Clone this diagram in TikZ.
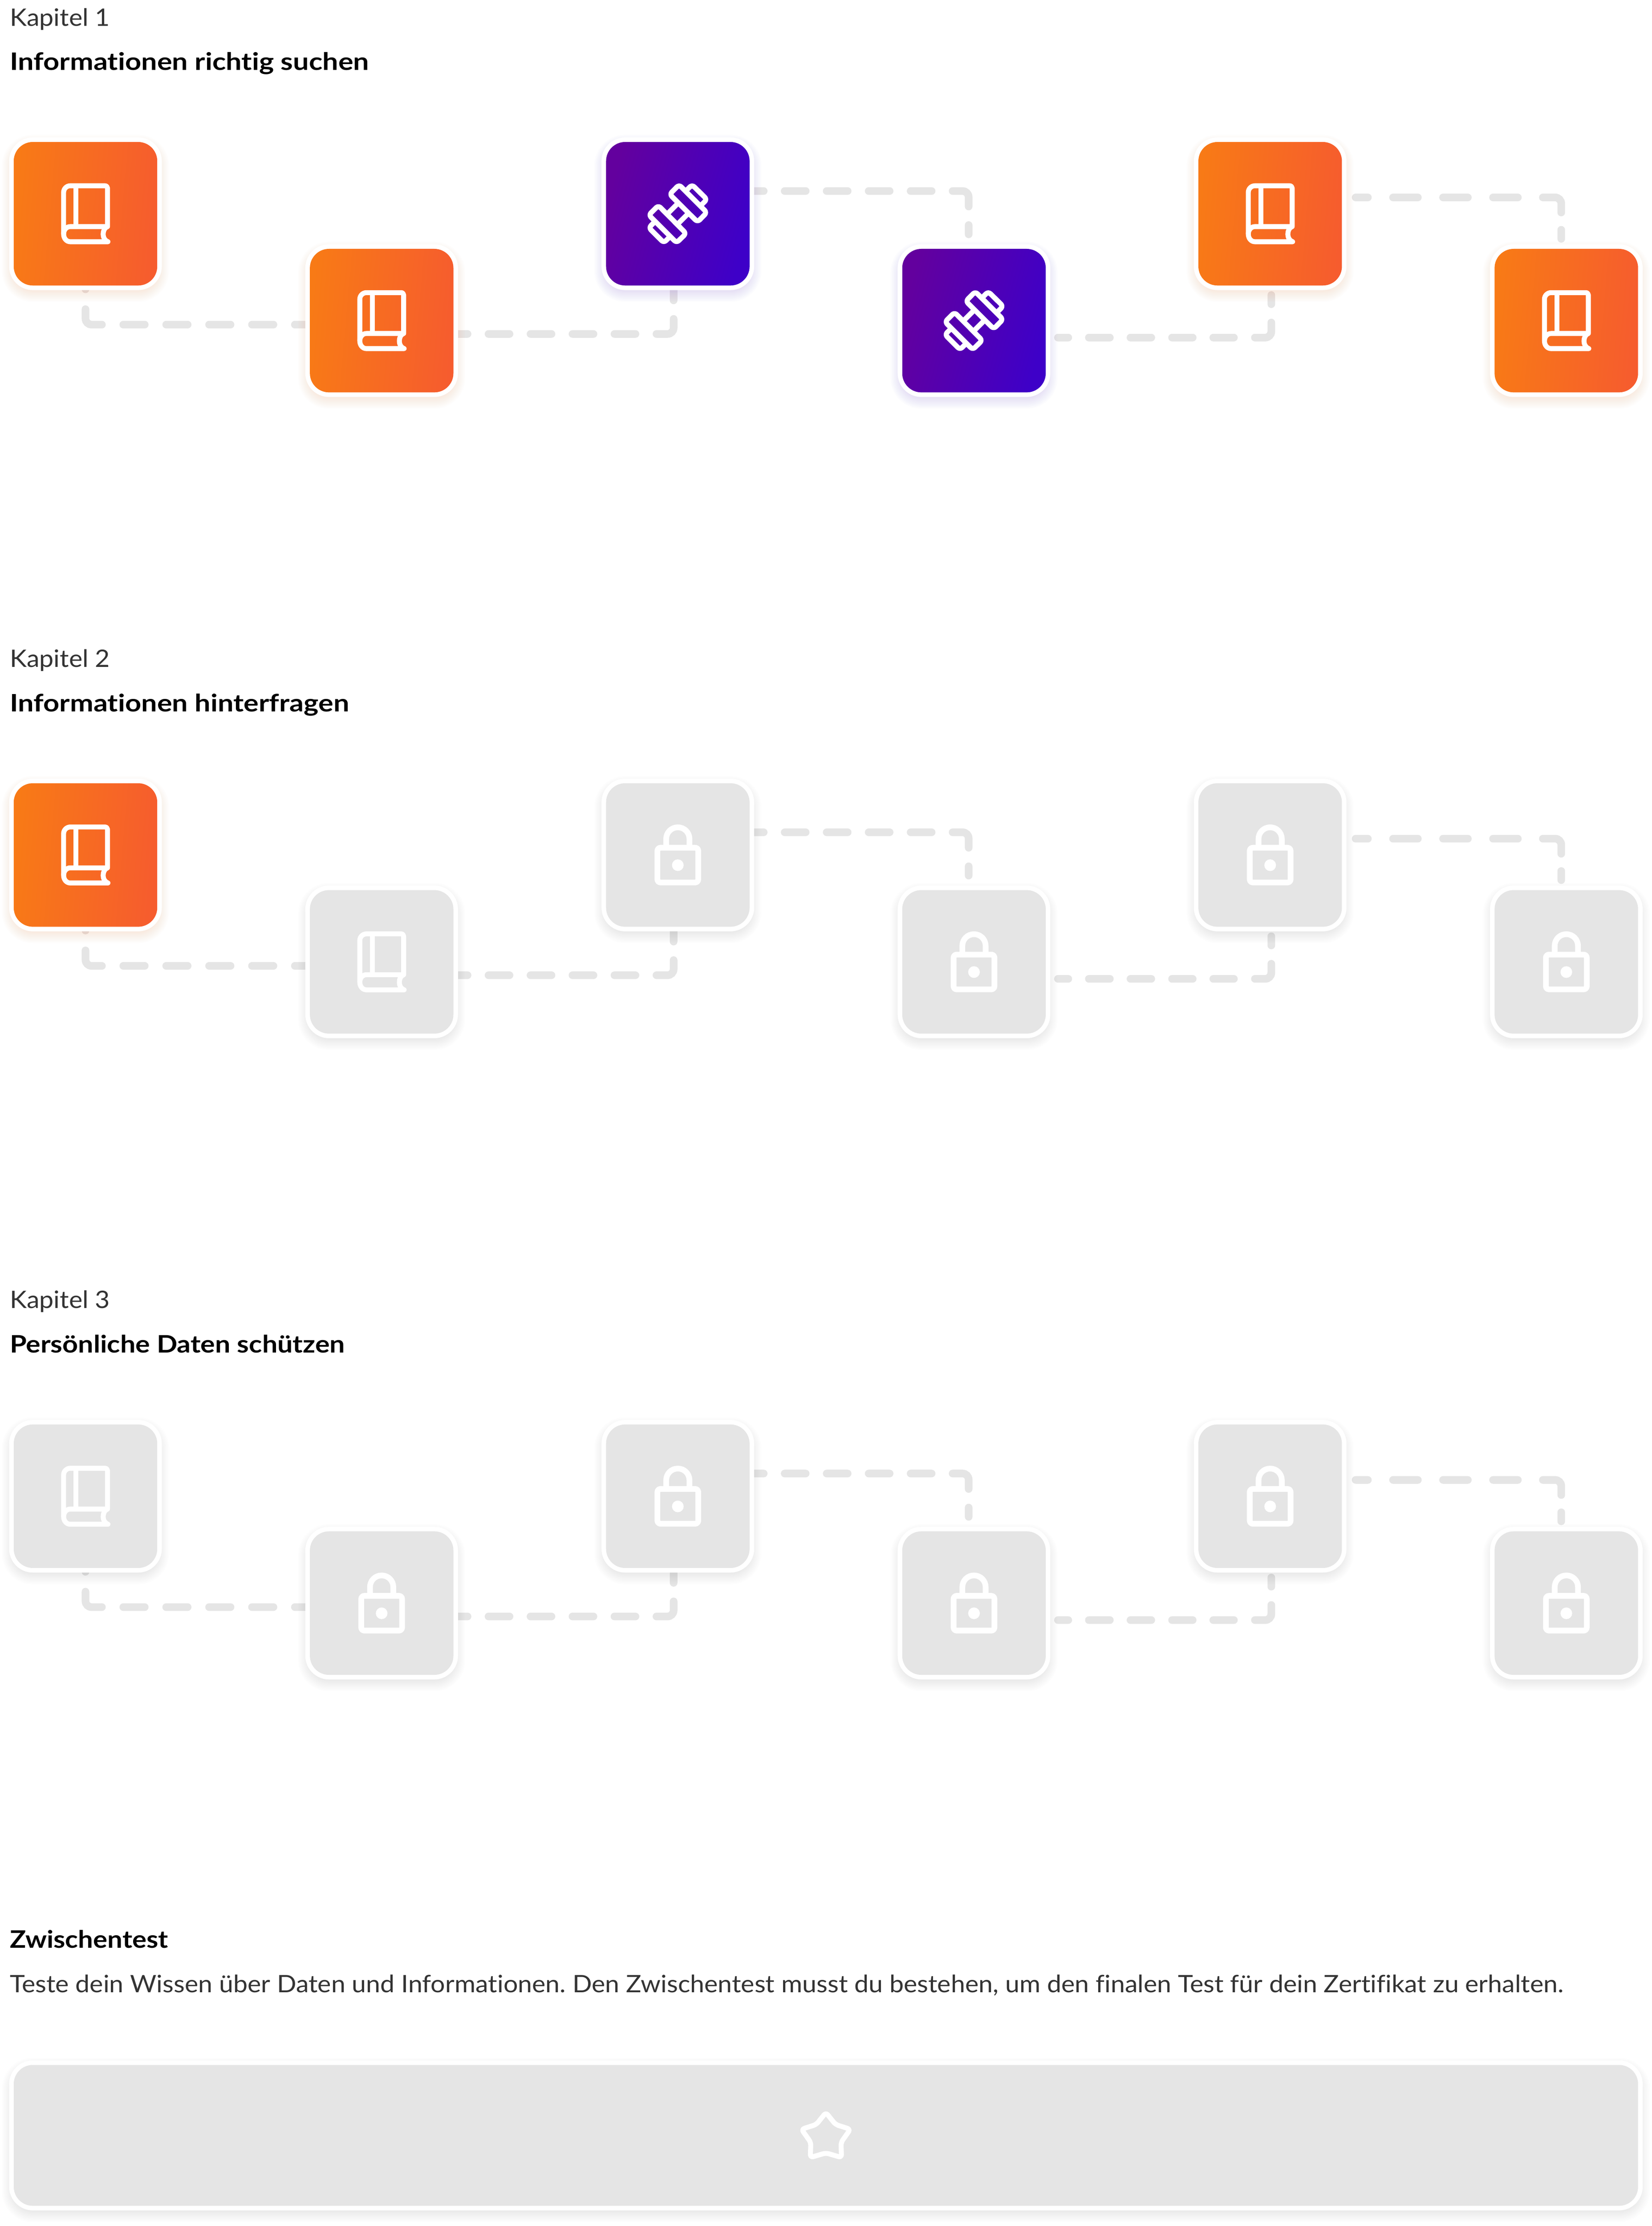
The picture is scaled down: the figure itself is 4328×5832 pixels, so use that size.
\documentclass[tikz,border=0pt]{standalone}
\usepackage{fontspec}
\setmainfont{Lato}
\newfontfamily\regfont[FakeStretch=1.062,Ligatures=NoCommon]{Lato}
\newfontfamily\boldwide[FakeStretch=1.168,Ligatures=NoCommon]{Lato Bold}
\newfontfamily\boldmid[FakeStretch=1.13,Ligatures=NoCommon]{Lato Bold}
\newfontfamily\boldnarrow[FakeStretch=1.11,Ligatures=NoCommon]{Lato Bold}
\usetikzlibrary{calc}
\definecolor{orangeL}{HTML}{F87A16}
\definecolor{orangeR}{HTML}{F65C2E}
\definecolor{purpleL}{HTML}{63009E}
\definecolor{purpleR}{HTML}{3E00C8}
\definecolor{lockgray}{HTML}{E5E5E5}
\definecolor{textgray}{HTML}{333333}
\definecolor{orangeS}{HTML}{F96020}
\definecolor{purpleS}{HTML}{4A10E0}
\definecolor{grayS}{HTML}{000000}
\pgfdeclarelayer{conn}
\pgfdeclarelayer{shad}
\pgfsetlayers{conn,shad,main}
\tikzset{
  cardouter/.style={rectangle,rounded corners=62pt,minimum size=400pt,inner sep=0pt,outer sep=0pt,fill=white},
  cardinner/.style={rectangle,rounded corners=50pt,minimum size=376pt,inner sep=0pt,outer sep=0pt},
  fillorange/.style={left color=orangeL,right color=orangeR,shading angle=85},
  fillpurple/.style={left color=purpleL,right color=purpleR,shading angle=75},
  fillgray/.style={fill=lockgray},
  conn/.style={draw=lockgray,line width=20pt,line cap=round,rounded corners=16pt},
  kapitel/.style={anchor=base west,inner sep=0pt,outer sep=0pt,text=textgray,font=\fontsize{63}{76}\selectfont\regfont\frenchspacing},
  titel/.style={anchor=base west,inner sep=0pt,outer sep=0pt,text=black,font=\fontsize{63}{76}\selectfont#1},
  icon/.style={draw=white,line join=round},
  book/.pic={
    \draw[icon,line width=13pt,line cap=round]
      (59,73.3) -- (-40,73.3) .. controls (-49.5,73.3) and (-57.3,65) .. (-57.3,53)
      -- (-57.3,-56) .. controls (-57.3,-66) and (-49,-73.3) .. (-40,-73.3)
      -- (51,-73.3) .. controls (55,-73.3) and (57.7,-70.3) .. (57.7,-67)
      -- (57.7,33.7) .. controls (50,36) and (46.3,45) .. (46.3,53.5)
      .. controls (46.3,62) and (50,70) .. (59,73.3);
    \draw[icon,line width=13pt,line cap=butt]
      (57.7,33.7) -- (-40,33.7) .. controls (-49.5,33.7) and (-57.3,42) .. (-57.3,53);
    \draw[icon,line width=13pt,line cap=butt] (-24.7,-73.3) -- (-24.7,33.7);
  },
  lock/.pic={
    \draw[icon,line width=15pt,rounded corners=8pt] (-53.5,-19) rectangle (53.5,72);
    \draw[icon,line width=15pt] (-30.5,-19) -- (-30.5,-42)
      .. controls (-30.5,-59) and (-17,-72.5) .. (0,-72.5)
      .. controls (17,-72.5) and (30.5,-59) .. (30.5,-42) -- (30.5,-19);
    \fill[white] (0,26.7) circle[radius=15.3pt];
  },
  dumbbell/.pic={
    \begin{scope}[shift={(-116,-110)},scale=1/3,icon,line width=13.3pt]
      \draw[rounded corners=8pt] (358,102) -- (284,177) -- (503,395) -- (576,320) -- cycle;
      \draw[rounded corners=8pt] (195,265) -- (120,340) -- (338,558) -- (413,485) -- cycle;
      \draw[rounded corners=8pt] (409,153) -- (460,102) -- (577,217) -- (525,269);
      \draw[rounded corners=8pt] (170,390) -- (120,440) -- (238,558) -- (288,508);
      \draw (352,245) -- (263,334);
      \draw (432.5,325.5) -- (343.5,414.5);
    \end{scope}
  },
  star/.pic={
    \draw[icon,line width=13pt,rounded corners=8pt]
      (0,-60) -- (25.1,-28.5) -- (64,-16) -- (39.5,18.6) -- (41,58) -- (0,46)
      -- (-41,58) -- (-39.5,18.6) -- (-64,-16) -- (-25.1,-28.5) -- cycle;
  },
}
% name, x, y, fill style, shadow colour, shadow strength, icon
\newcommand{\card}[7]{%
  \begin{pgfonlayer}{shad}
    \foreach \e in {-8,-5,-2,1,4,7,10,13,16,19}{%
      \pgfmathsetmacro{\h}{200+\e}\pgfmathsetmacro{\r}{max(62+\e,20)}%
      \fill[#5,opacity=#6,rounded corners=\r pt]
        ($(#2,#3)+(-\h,-\h+12)$) rectangle ($(#2,#3)+(\h,\h+12)$);
    }
  \end{pgfonlayer}
  \node[cardouter] (#1) at (#2,#3) {};
  \node[cardinner,#4] (#1in) at (#2,#3) {};
  \pic at (#1) {#7};
}
\newcommand{\connectors}[1]{%
  \begin{pgfonlayer}{conn}
    \draw[conn,dash pattern=on 8pt off 52pt on 76.6pt off 56pt on 56.2pt off 56.2pt on 56.2pt off 56.2pt on 56.2pt off 56.2pt on 56.2pt off 56.2pt on 100pt off 100pt]
      ($(#1a.south)+(0,-10)$) |- ($(#1b.west)+(0,10.5)$);
    \draw[conn,dash pattern=on 25pt off 55pt on 55pt off 55pt on 55pt off 55pt on 55pt off 55pt on 55pt off 55pt on 77.6pt off 48.5pt on 60pt off 60pt]
      ($(#1b.east)+(0,35)$) -| ($(#1c.south)+(-11,-10)$);
    \draw[conn,dash pattern=on 25pt off 55pt on 55pt off 55pt on 55pt off 55pt on 55pt off 55pt on 55pt off 55pt on 75.6pt off 48.6pt on 24.4pt off 60pt]
      ($(#1c.east)+(0,-59.5)$) -| ($(#1d.north)+(-14,-26)$);
    \draw[conn,dash pattern=on 27pt off 54pt on 55pt off 54pt on 54.5pt off 54.5pt on 54pt off 54pt on 54pt off 55pt on 75.6pt off 48pt on 24pt off 60pt]
      ($(#1d.east)+(20,44.5)$) -| ($(#1e.south)+(3,13)$);
    \draw[conn,dash pattern=on 32pt off 66pt on 65pt off 66pt on 65pt off 66pt on 65pt off 65.5pt on 80.7pt off 45.3pt on 23.7pt off 60pt]
      ($(#1e.east)+(24,-42.7)$) -| ($(#1f.north)+(-13.3,-14.3)$);
  \end{pgfonlayer}
}
\begin{document}
\begin{tikzpicture}[x=1pt,y=-1pt]
\useasboundingbox (0,0) rectangle (4328,5832);
\begin{pgfonlayer}{conn}
\fill[white] (0,0) rectangle (4328,5832);
\end{pgfonlayer}

% Chapter 1
\node[kapitel] (k1) at (26,68) {Kapitel 1};
\node[titel=\boldwide] (t1) at (26,184) {Informationen richtig suchen};
\card{Aa}{224}{560}{fillorange}{orangeS}{0.013}{book}
\card{Ab}{1000}{840}{fillorange}{orangeS}{0.013}{book}
\card{Ac}{1776}{560}{fillpurple}{purpleS}{0.010}{dumbbell}
\card{Ad}{2552}{840}{fillpurple}{purpleS}{0.010}{dumbbell}
\card{Ae}{3328}{560}{fillorange}{orangeS}{0.013}{book}
\card{Af}{4104}{840}{fillorange}{orangeS}{0.013}{book}
\connectors{A}

% Chapter 2
\node[kapitel] (k2) at (26,1748) {Kapitel 2};
\node[titel=\boldwide] (t2) at (26,1864) {Informationen hinterfragen};
\card{Ba}{224}{2240}{fillorange}{orangeS}{0.013}{book}
\card{Bb}{1000}{2520}{fillgray}{grayS}{0.006}{book}
\card{Bc}{1776}{2240}{fillgray}{grayS}{0.006}{lock}
\card{Bd}{2552}{2520}{fillgray}{grayS}{0.006}{lock}
\card{Be}{3328}{2240}{fillgray}{grayS}{0.006}{lock}
\card{Bf}{4104}{2520}{fillgray}{grayS}{0.006}{lock}
\connectors{B}

% Chapter 3
\node[kapitel] (k3) at (26,3428) {Kapitel 3};
\node[titel=\boldmid] (t3) at (26,3544) {Persönliche Daten schützen};
\card{Ca}{224}{3920}{fillgray}{grayS}{0.006}{book}
\card{Cb}{1000}{4200}{fillgray}{grayS}{0.006}{lock}
\card{Cc}{1776}{3920}{fillgray}{grayS}{0.006}{lock}
\card{Cd}{2552}{4200}{fillgray}{grayS}{0.006}{lock}
\card{Ce}{3328}{3920}{fillgray}{grayS}{0.006}{lock}
\card{Cf}{4104}{4200}{fillgray}{grayS}{0.006}{lock}
\connectors{C}

% Zwischentest
\node[titel=\boldnarrow] (zt) at (26,5104) {Zwischentest};
\node[kapitel] (zd) at (26,5220) {Teste dein Wissen über Daten und Informationen. Den Zwischentest musst du bestehen, um den finalen Test für dein Zertifikat zu erhalten.};
\begin{pgfonlayer}{shad}
  \foreach \e in {-8,-5,-2,1,4,7,10,13,16,19}{%
    \pgfmathsetmacro{\r}{max(62+\e,20)}%
    \fill[grayS,opacity=0.006,rounded corners=\r pt]
      ($(2164,5594.5)+(-2140-\e,-196.5-\e+12)$) rectangle ($(2164,5594.5)+(2140+\e,196.5+\e+12)$);
  }
\end{pgfonlayer}
\node[rectangle,rounded corners=62pt,minimum width=4280pt,minimum height=393pt,inner sep=0pt,outer sep=0pt,fill=white] (panel) at (2164,5594.5) {};
\node[rectangle,rounded corners=50pt,minimum width=4256pt,minimum height=369pt,inner sep=0pt,outer sep=0pt,fillgray] (panelin) at (2164,5594.5) {};
\pic at (panel) {star};
\end{tikzpicture}
\end{document}
